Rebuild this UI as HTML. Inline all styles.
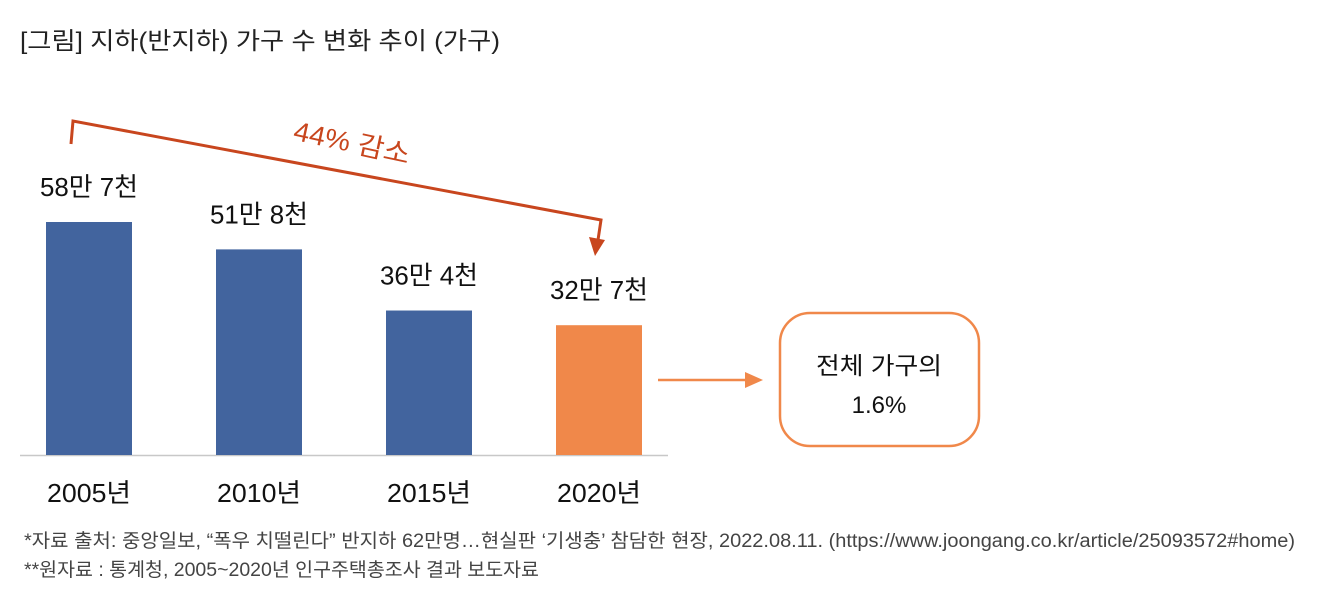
<!DOCTYPE html>
<html><head><meta charset="utf-8">
<style>
body{margin:0;background:#fff;width:1320px;height:600px;overflow:hidden;font-family:"Liberation Sans","Noto Sans CJK KR",sans-serif;}
svg text{font-family:"Liberation Sans","Noto Sans CJK KR",sans-serif;}
</style></head><body>
<svg width="1320" height="600">
<text x="20" y="49" font-size="24" fill="#222" textLength="480" lengthAdjust="spacingAndGlyphs">[그림] 지하(반지하) 가구 수 변화 추이 (가구)</text>
<line x1="20" y1="455.5" x2="668" y2="455.5" stroke="#c8c8c8" stroke-width="1.5"/>
<g id="bars"></g>
<path d="M71 144 L73 121 L601 220 L598 240" fill="none" stroke="#c8461e" stroke-width="3"/>
<polygon points="589,237 605,240 595,256" fill="#c8461e"/>
<text x="352" y="152" font-size="27" fill="#c8461e" text-anchor="middle" textLength="118" lengthAdjust="spacingAndGlyphs" transform="rotate(12 352 142)">44% 감소</text>
<line x1="658" y1="380" x2="748" y2="380" stroke="#f0884a" stroke-width="2.5"/>
<polygon points="745,372 763,380 745,388" fill="#f0884a"/>
<rect x="780" y="313" width="199" height="133" rx="30" fill="#fff" stroke="#f0884a" stroke-width="2.5"/>
<text x="879" y="374" font-size="24" fill="#111" text-anchor="middle" textLength="126" lengthAdjust="spacingAndGlyphs">전체 가구의</text>
<text x="879" y="413" font-size="24" fill="#111" text-anchor="middle">1.6%</text>
<text x="24" y="547" font-size="19" fill="#444" textLength="1271" lengthAdjust="spacingAndGlyphs">*자료 출처: 중앙일보, “폭우 치떨린다” 반지하 62만명…현실판 ‘기생충’ 참담한 현장, 2022.08.11. (https://www.joongang.co.kr/article/25093572#home)</text>
<text x="24" y="576" font-size="19" fill="#444" textLength="515" lengthAdjust="spacingAndGlyphs">**원자료 : 통계청, 2005~2020년 인구주택총조사 결과 보도자료</text>
</svg>
<script>
const categories=["2005년","2010년","2015년","2020년"];
const values=[587,518,364,327];
const valueLabels=["58만 7천","51만 8천","36만 4천","32만 7천"];
const colors=["#42649e","#42649e","#42649e","#f0884a"];
const ns="http://www.w3.org/2000/svg";
const g=document.getElementById("bars");
const base=455, scale=233/587, x0=89, step=170, bw=86;
const xPos=i=>x0+i*step;
const yPos=v=>base-v*scale;
categories.forEach((c,i)=>{
  const r=document.createElementNS(ns,"rect");
  r.setAttribute("x",xPos(i)-bw/2);r.setAttribute("y",yPos(values[i]));
  r.setAttribute("width",bw);r.setAttribute("height",base-yPos(values[i]));
  r.setAttribute("fill",colors[i]);
  
  
  g.appendChild(r);
  const t=document.createElementNS(ns,"text");
  t.setAttribute("x",xPos(i));t.setAttribute("y",yPos(values[i])-26);
  t.setAttribute("font-size","26");t.setAttribute("text-anchor","middle");t.setAttribute("fill","#111");
  t.setAttribute("textLength","98");t.setAttribute("lengthAdjust","spacingAndGlyphs");
  t.textContent=valueLabels[i];
  
  
  g.appendChild(t);
  const l=document.createElementNS(ns,"text");
  l.setAttribute("x",xPos(i));l.setAttribute("y",502);
  l.setAttribute("font-size","26");l.setAttribute("text-anchor","middle");l.setAttribute("fill","#111");
  l.setAttribute("textLength","84");l.setAttribute("lengthAdjust","spacingAndGlyphs");
  l.textContent=c;
  
  
  g.appendChild(l);
});
</script>
</body></html>
